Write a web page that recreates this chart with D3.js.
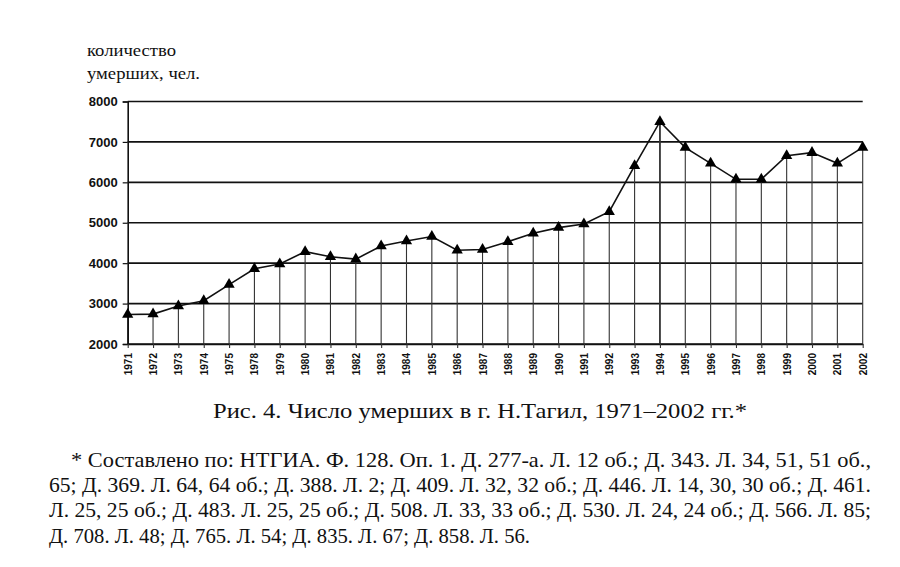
<!DOCTYPE html>
<html>
<head>
<meta charset="utf-8">
<script src="https://cdn.jsdelivr.net/npm/d3@7"></script>
<style>
  html, body { margin: 0; padding: 0; background: #fff; }
  svg { display: block; }
</style>
</head>
<body>
<svg id="chart" width="900" height="567"></svg>
<script>
// ---- data ----
const years = ["1971","1972","1973","1974","1975","1978","1979","1980","1981","1982",
               "1983","1984","1985","1986","1987","1988","1989","1990","1991","1992",
               "1993","1994","1995","1996","1997","1998","1999","2000","2001","2002"];
const deaths = [2730, 2740, 2940, 3070, 3470, 3860, 3980, 4285, 4160, 4100,
                4425, 4550, 4660, 4320, 4340, 4530, 4740, 4880, 4970, 5275,
                6410, 7500, 6860, 6470, 6075, 6075, 6660, 6735, 6470, 6865];
const yTicks = [2000, 3000, 4000, 5000, 6000, 7000, 8000];
const yTitle = ["количество", "умерших, чел."];
const caption = "Рис. 4. Число умерших в г. Н.Тагил, 1971–2002 гг.*";
const footnote = [
  "* Составлено по: НТГИА. Ф. 128. Оп. 1. Д. 277-а. Л. 12 об.; Д. 343. Л. 34, 51, 51 об.,",
  "65; Д. 369. Л. 64, 64 об.; Д. 388. Л. 2; Д. 409. Л. 32, 32 об.; Д. 446. Л. 14, 30, 30 об.; Д. 461.",
  "Л. 25, 25 об.; Д. 483. Л. 25, 25 об.; Д. 508. Л. 33, 33 об.; Д. 530. Л. 24, 24 об.; Д. 566. Л. 85;",
  "Д. 708. Л. 48; Д. 765. Л. 54; Д. 835. Л. 67; Д. 858. Л. 56."
];

(function () {
// ---- layout ----
const svg = d3.select("#chart");
const pLeft = 127.7, pRight = 862.7, pTop = 101.5, pBottom = 344;
const SERIF = "Liberation Serif";
const SANS = "Liberation Sans";

const x = d3.scalePoint().domain(years).range([pLeft, pRight]).padding(0);
const y = d3.scaleLinear().domain([2000, 8000]).range([pBottom, pTop]);

// gridlines
svg.append("g").selectAll("line").data(yTicks).join("line")
  .attr("x1", pLeft).attr("x2", pRight)
  .attr("y1", d => y(d)).attr("y2", d => y(d))
  .attr("stroke", "#111").attr("stroke-width", 1.6);

// drop lines
svg.append("g").selectAll("line").data(years).join("line")
  .attr("x1", d => x(d)).attr("x2", d => x(d))
  .attr("y1", (d, i) => y(deaths[i])).attr("y2", pBottom)
  .attr("stroke", "#333").attr("stroke-width", (d) => d === "1994" ? 1.8 : 1.1);

// y axis
const yAxis = svg.append("g").attr("transform", `translate(${pLeft},0)`)
  .call(d3.axisLeft(y).tickValues(yTicks).tickSize(5).tickPadding(5).tickFormat(d3.format("d")));
yAxis.attr("font-family", SANS).attr("font-size", 13);
yAxis.select(".domain").attr("stroke", "#111").attr("stroke-width", 1.6);
yAxis.selectAll(".tick line").attr("stroke", "#111").attr("stroke-width", 1.2);
yAxis.selectAll("text").attr("font-weight", "bold").attr("fill", "#111");

// x axis
const xAxis = svg.append("g").attr("transform", `translate(0,${pBottom})`)
  .call(d3.axisBottom(x).tickSize(4).tickSizeOuter(0));
xAxis.attr("font-family", SANS).attr("font-size", 10);
xAxis.select(".domain").attr("stroke", "#111").attr("stroke-width", 1.6);
xAxis.selectAll(".tick line").attr("stroke", "#333").attr("stroke-width", 1.1);
xAxis.selectAll("text")
  .attr("font-weight", "bold").attr("fill", "#111")
  .attr("text-anchor", "end")
  .attr("transform", "rotate(-90)")
  .attr("x", -9).attr("y", 0).attr("dy", "0.35em");

// line
svg.append("path").datum(deaths)
  .attr("fill", "none").attr("stroke", "#111").attr("stroke-width", 1.6)
  .attr("d", d3.line().x((d, i) => x(years[i])).y(d => y(d)));

// markers
svg.append("g").selectAll("path").data(deaths).join("path")
  .attr("transform", (d, i) => `translate(${x(years[i])},${y(d)})`)
  .attr("d", d3.symbol().type(d3.symbolTriangle).size(55))
  .attr("fill", "#000");

// y title
svg.append("text").attr("x", 87).attr("y", 55.5).text(yTitle[0])
  .attr("font-family", SERIF).attr("font-size", 17).attr("fill", "#111")
  .attr("textLength", 89).attr("lengthAdjust", "spacingAndGlyphs");
svg.append("text").attr("x", 87).attr("y", 79).text(yTitle[1])
  .attr("font-family", SERIF).attr("font-size", 17).attr("fill", "#111")
  .attr("textLength", 113).attr("lengthAdjust", "spacingAndGlyphs");

// caption
svg.append("text").attr("x", 213).attr("y", 418).text(caption)
  .attr("font-family", SERIF).attr("font-size", 22).attr("fill", "#111")
  .attr("textLength", 534).attr("lengthAdjust", "spacingAndGlyphs");

// footnote
const fnX = [71, 49, 49, 49];
const fnW = [800, 822, 822, 481];
const fnY = [467, 492, 517, 543];
svg.append("g").selectAll("text").data(footnote).join("text")
  .attr("x", (d, i) => fnX[i]).attr("y", (d, i) => fnY[i])
  .text(d => d)
  .attr("font-family", SERIF).attr("font-size", 22).attr("fill", "#111")
  .attr("textLength", (d, i) => fnW[i]).attr("lengthAdjust", "spacingAndGlyphs");
})();
</script>
</body>
</html>
